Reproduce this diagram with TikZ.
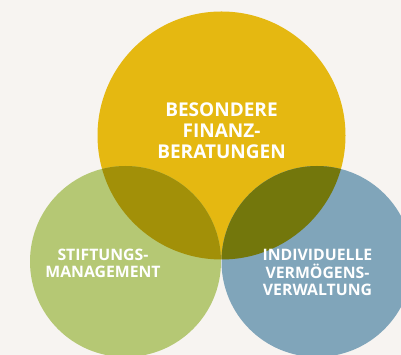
\documentclass[tikz,border=0pt]{standalone}
\usepackage{fontspec}
\setmainfont{Open Sans}
\begin{document}
\begin{tikzpicture}[x=1pt,y=1pt]

  \definecolor{bgcol}{HTML}{F7F4F1}
  \definecolor{topcol}{HTML}{E5B811}
  \definecolor{leftcol}{HTML}{B5C874}
  \definecolor{rightcol}{HTML}{80A5BA}
  \definecolor{tlcol}{HTML}{A29008}
  \definecolor{trcol}{HTML}{73770C}

 \coordinate (ctop) at (221.5,219.5);
 \coordinate (cleft) at (125.5,93.5);
 \coordinate (cright) at (317,93.5);

 \tikzset{
      labstl/.style={text=white,font=\bfseries\fontsize{19}{21}\selectfont,align=center,inner sep=0pt},
      smlstl/.style={labstl,font=\bfseries\fontsize{15.8}{17.5}\selectfont},
    }

 \fill[bgcol] (0,0) rectangle (401,355);
 \useasboundingbox (0,0) rectangle (401,355);

 \fill[topcol] (ctop) circle[radius=124];
 \fill[leftcol] (cleft) circle[radius=95.5];
 \fill[rightcol] (cright) circle[radius=95.5];

% overlaps
 \begin{scope}
   \clip (ctop) circle[radius=124];
   \fill[tlcol] (cleft) circle[radius=95.5];
   \fill[trcol] (cright) circle[radius=95.5];
 \end{scope}

 \node[labstl] (besondere) at (221.5,224) {BESONDERE\\FINANZ-\\BERATUNGEN};
 \node[smlstl] (stiftung) at (103,91.5) {STIFTUNGS-\\MANAGEMENT};
 \node[smlstl] (vermoegen) at (317.5,82.5) {INDIVIDUELLE\\VERMÖGENS-\\VERWALTUNG};
\end{tikzpicture}
\end{document}
